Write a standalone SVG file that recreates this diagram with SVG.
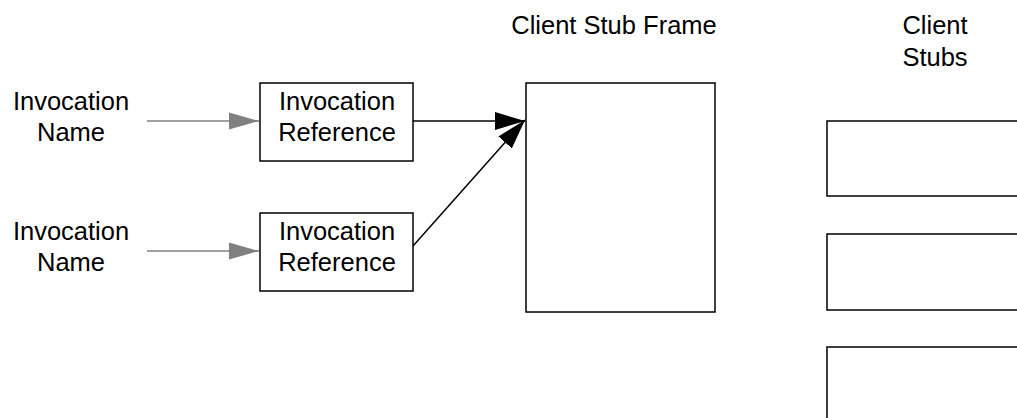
<svg xmlns="http://www.w3.org/2000/svg" width="1017" height="418" viewBox="0 0 1017 418">
<style>
text{font-family:"Liberation Sans",Arial,sans-serif;font-size:25.5px;fill:#000;text-anchor:middle}
.box{fill:#fff;stroke:#000;stroke-width:1.5}
.g{stroke:#808080;stroke-width:1.5;fill:none}
.k{stroke:#000;stroke-width:1.5;fill:none}
</style>
<defs>
<marker id="ag" markerUnits="userSpaceOnUse" markerWidth="32" markerHeight="20" refX="30" refY="8.5" orient="auto" viewBox="0 0 32 17"><path d="M0,0 L30,8.5 L0,17 z" fill="#808080"/></marker>
<marker id="ak" markerUnits="userSpaceOnUse" markerWidth="32" markerHeight="20" refX="30" refY="9" orient="auto" viewBox="0 0 32 18"><path d="M0,0 L30,9 L0,18 z" fill="#000"/></marker>
</defs>
<g id="label-name1"><text x="71" y="110">Invocation</text><text x="71" y="141">Name</text></g>
<g id="label-name2"><text x="71" y="240">Invocation</text><text x="71" y="271">Name</text></g>
<g id="ref1"><rect class="box" x="260" y="83" width="153" height="78"/><text x="337" y="110">Invocation</text><text x="337" y="141">Reference</text></g>
<g id="ref2"><rect class="box" x="260" y="213" width="153" height="78"/><text x="337" y="240">Invocation</text><text x="337" y="271">Reference</text></g>
<g id="frame"><text x="614" y="34">Client Stub Frame</text><rect class="box" x="526" y="83" width="189" height="229"/></g>
<g id="stubs-label"><text x="935" y="34">Client</text><text x="935" y="66">Stubs</text></g>
<g id="stub1"><rect class="box" x="827" y="121" width="200" height="75"/></g>
<g id="stub2"><rect class="box" x="827" y="234" width="200" height="76"/></g>
<g id="stub3"><rect class="box" x="827" y="347" width="200" height="90"/></g>
<g id="connectors">
<line class="g" x1="147" y1="121" x2="259" y2="121" marker-end="url(#ag)"/>
<line class="g" x1="147" y1="251" x2="259" y2="251" marker-end="url(#ag)"/>
<line class="k" x1="413" y1="121" x2="525" y2="121" marker-end="url(#ak)"/>
<line class="k" x1="413" y1="246" x2="525" y2="120" marker-end="url(#ak)"/>
</g>
</svg>
